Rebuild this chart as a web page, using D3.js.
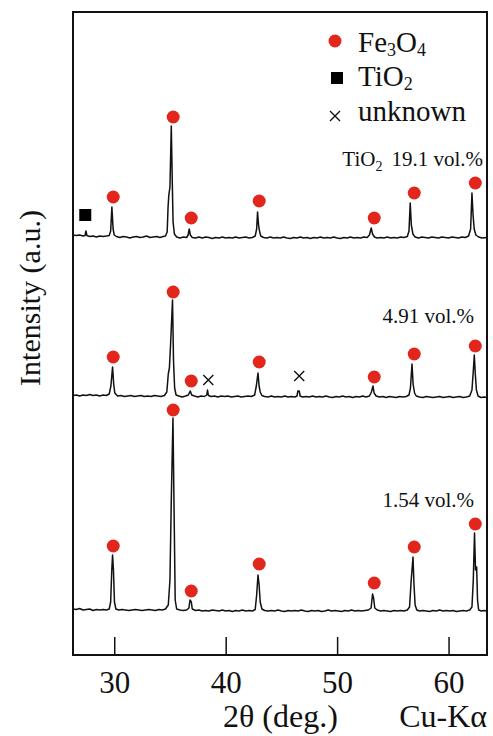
<!DOCTYPE html>
<html><head><meta charset="utf-8">
<script src="https://cdn.jsdelivr.net/npm/d3@7"></script>
<style>html,body{margin:0;padding:0;background:#fff;}svg{display:block;}</style>
</head><body>
<svg id="chart" width="493" height="736"></svg>
<script>
// ---- data (2θ in degrees, intensity in a.u. above each pattern's own baseline) ----
const xTicks = [30, 40, 50, 60];
const sampleLabels = ["19.1 vol.%", "4.91 vol.%", "1.54 vol.%"];
const offsets = [418, 259, 45];

const traceTop = [[26.3,2],[26.6,1.5],[26.9,2],[27.2,1],[27.38,1.5],[27.46,6],[27.55,1.5],[27.8,0.5],[28.1,1],[28.4,0],[28.7,1],[29.0,0.5],[29.3,1],[29.55,1.5],[29.68,6],[29.79,30],[29.9,8],[30.0,2],[30.2,0.5],[30.5,-0.5],[30.8,0.5],[31.1,0],[31.4,-1],[31.7,0],[32.0,0.5],[32.3,-0.5],[32.6,0],[32.9,1],[33.2,-0.5],[33.5,0],[33.8,0.5],[34.1,-0.5],[34.4,0.5],[34.6,1],[34.75,5],[34.83,30],[34.9,42],[35.0,50],[35.12,111],[35.2,60],[35.28,15],[35.4,3],[35.6,0],[35.9,-1],[36.2,0],[36.5,-0.5],[36.63,2],[36.73,8],[36.83,2],[37.0,-0.5],[37.3,-1],[37.6,0],[37.9,-1],[38.2,0],[38.5,-0.5],[38.8,-1.5],[39.1,-0.5],[39.4,-1],[39.7,0],[40.0,-1],[40.3,-0.5],[40.6,-1],[40.9,0],[41.2,-1],[41.5,-0.5],[41.8,0],[42.1,-1],[42.4,-0.5],[42.65,1],[42.78,8],[42.86,25],[42.95,12],[43.05,5],[43.15,1],[43.4,-0.5],[43.7,-1],[44.0,0],[44.3,-1],[44.6,-0.5],[44.9,-1],[45.2,0],[45.5,-1],[45.8,-1.5],[46.1,-0.5],[46.4,-1],[46.7,0],[47.0,-1],[47.3,-0.5],[47.6,-1.5],[47.9,-0.5],[48.2,-1],[48.5,0],[48.8,-1],[49.1,-0.5],[49.4,-1],[49.7,0],[50.0,-1],[50.3,-1.5],[50.6,-0.5],[50.9,-1],[51.2,0],[51.5,-1],[51.8,-0.5],[52.1,-1],[52.4,0],[52.7,-0.5],[52.9,2],[53.06,9],[53.18,3],[53.35,0],[53.6,-1],[53.9,-0.5],[54.2,-1],[54.5,0],[54.8,-1],[55.1,-0.5],[55.4,-1],[55.7,0],[56.0,-0.5],[56.3,0.5],[56.45,6],[56.56,34],[56.66,12],[56.8,3],[57.0,0],[57.3,-1],[57.6,0],[57.9,-0.5],[58.2,-1],[58.5,0],[58.8,-0.5],[59.1,-1],[59.4,0],[59.7,-0.5],[60.0,-1],[60.3,0],[60.6,-0.5],[60.9,-1],[61.2,0],[61.5,-0.5],[61.8,1],[61.98,8],[62.10,44],[62.2,22],[62.3,8],[62.45,2],[62.7,0],[63.0,-1],[63.45,-0.5]];

const traceMid = [[26.3,0.5],[26.6,1],[26.9,0],[27.2,1],[27.5,0.5],[27.8,1.5],[28.1,0.5],[28.4,1],[28.7,0],[29.0,1],[29.3,0.5],[29.55,2],[29.7,10],[29.85,29],[29.95,12],[30.05,3],[30.3,0],[30.6,0.5],[30.9,-0.5],[31.2,0],[31.5,0.5],[31.8,-0.5],[32.1,0],[32.4,0.5],[32.7,-0.5],[33.0,0],[33.3,-0.5],[33.6,0.5],[33.9,0],[34.2,-0.5],[34.5,0.5],[34.72,4],[34.85,22],[34.95,28],[35.05,50],[35.23,96],[35.32,35],[35.42,8],[35.55,1],[35.8,0],[36.1,-1],[36.4,0],[36.65,1],[36.82,5],[36.95,1],[37.2,0],[37.5,-1],[37.8,0],[38.1,-0.5],[38.3,1],[38.37,6],[38.45,0.5],[38.7,-0.5],[39.0,0],[39.3,-1],[39.6,0],[39.9,-0.5],[40.2,0],[40.5,-1],[40.8,-0.5],[41.1,0],[41.4,-1],[41.7,-0.5],[42.0,0],[42.3,-0.5],[42.6,1],[42.75,10],[42.9,23],[43.0,10],[43.1,4],[43.25,0.5],[43.5,-0.5],[43.8,-1],[44.1,0],[44.4,-1],[44.7,-0.5],[45.0,-1],[45.3,0],[45.6,-1],[45.9,-0.5],[46.2,-1],[46.4,0],[46.48,5],[46.6,5],[46.68,0],[46.9,-1],[47.2,-0.5],[47.5,-1],[47.8,0],[48.1,-1],[48.4,-0.5],[48.7,-1],[49.0,0],[49.3,-1],[49.6,-1.5],[49.9,-0.5],[50.2,-1],[50.5,0],[50.8,-1],[51.1,-0.5],[51.4,-1.5],[51.7,-0.5],[52.0,-1],[52.3,0],[52.6,-1],[52.9,0],[53.08,4],[53.22,10],[53.32,3],[53.5,0],[53.8,-1],[54.1,-0.5],[54.4,-1.5],[54.7,-0.5],[55.0,-1],[55.3,-1.5],[55.6,-0.5],[55.9,-1],[56.2,-0.5],[56.45,1],[56.58,8],[56.72,32],[56.82,12],[56.95,3],[57.1,0],[57.4,-1],[57.7,-1.5],[58.0,-0.5],[58.3,-1],[58.6,-1.5],[58.9,-1],[59.2,-0.5],[59.5,-1.5],[59.8,-1],[60.1,-0.5],[60.4,-1.5],[60.7,-1],[61.0,-0.5],[61.3,-1.5],[61.6,-1],[61.9,0],[62.1,6],[62.22,25],[62.31,41],[62.4,22],[62.5,6],[62.65,0],[62.9,-1.5],[63.2,-1],[63.45,-1.5]];

const traceBot = [[26.3,1],[26.6,0.5],[26.9,1.5],[27.2,0],[27.5,0.5],[27.8,1],[28.1,-0.5],[28.4,0.5],[28.7,0],[29.0,0.5],[29.3,0],[29.55,1],[29.68,8],[29.78,40],[29.85,55],[29.93,40],[30.02,8],[30.15,1],[30.4,0],[30.7,0.5],[31.0,0],[31.3,-0.5],[31.6,0],[31.9,0.5],[32.2,0],[32.5,-0.5],[32.8,0],[33.1,0.5],[33.4,0],[33.7,-0.5],[34.0,0.5],[34.3,0],[34.6,1],[34.85,5],[35.0,30],[35.12,110],[35.27,192],[35.37,100],[35.47,10],[35.6,1],[35.9,0],[36.2,-0.5],[36.5,0],[36.7,2],[36.8,10],[36.92,8],[37.0,1],[37.3,-0.5],[37.6,0],[37.9,-1],[38.2,-0.5],[38.5,-1],[38.8,0],[39.1,-0.5],[39.4,-1],[39.7,0],[40.0,-1],[40.3,-0.5],[40.6,-1.5],[40.9,-0.5],[41.2,-1],[41.5,0],[41.8,-1],[42.1,-0.5],[42.4,-1],[42.65,0.5],[42.78,15],[42.9,35],[43.0,25],[43.1,8],[43.25,1],[43.5,-0.5],[43.8,-1],[44.1,-0.5],[44.4,-1],[44.7,0],[45.0,-1],[45.3,-1.5],[45.6,-0.5],[45.9,-1],[46.2,-0.5],[46.5,-1],[46.8,0],[47.1,-1],[47.4,-1.5],[47.7,-0.5],[48.0,-1],[48.3,-0.5],[48.6,-1.5],[48.9,-1],[49.2,0],[49.5,-1],[49.8,-0.5],[50.1,-1],[50.4,-1.5],[50.7,-0.5],[51.0,-1],[51.3,0],[51.6,-1],[51.9,-0.5],[52.2,-1],[52.5,-0.5],[52.8,0],[53.05,2],[53.18,16],[53.27,12],[53.38,2],[53.6,0],[53.9,-1],[54.2,-0.5],[54.5,-1],[54.8,-1.5],[55.1,-0.5],[55.4,-1],[55.7,-0.5],[56.0,-1],[56.3,0],[56.5,3],[56.65,30],[56.81,53],[56.9,25],[57.0,5],[57.15,0],[57.4,-1],[57.7,-0.5],[58.0,-1],[58.3,-1.5],[58.6,-0.5],[58.9,-1],[59.2,0],[59.5,-1],[59.8,-0.5],[60.1,-1],[60.4,-0.5],[60.7,-1.5],[61.0,-1],[61.3,-0.5],[61.6,-1],[61.9,0],[62.1,3],[62.22,30],[62.33,77],[62.42,40],[62.52,43],[62.6,10],[62.7,0],[62.95,-1],[63.2,-0.5],[63.45,-1]];

// marker positions [2θ, intensity above baseline]
const fe3o4Top = [[29.91,40],[35.29,120],[36.91,19],[43.01,36],[53.33,19],[56.92,44],[62.40,54]];
const fe3o4Mid = [[29.91,39],[35.29,104],[36.91,15],[43.01,34],[53.33,19],[56.92,42],[62.40,50]];
const fe3o4Bot = [[29.91,64],[35.29,200],[36.91,19],[43.01,46],[53.33,27],[56.92,63],[62.40,86]];
const tio2Top = [[27.40,22]];
const unknownMid = [[38.44,16],[46.60,20]];

// ---- drawing ----
const svg = d3.select("#chart");
const L = 73, R = 487, T = 12, B = 655;
const x = d3.scaleLinear().domain([26.3, 63.45]).range([L, R]);
const y = d3.scaleLinear().domain([0, B - T]).range([B, T]);
const serif = "Liberation Serif, Times New Roman, serif";
const red = "#e3261c";
const ink = "#111";

const traces = [traceTop, traceMid, traceBot];
const line = d3.line().x(d => x(d[0])).y(d => y(d[1]));
traces.forEach((t, i) => {
  svg.append("path")
    .datum(t.map(d => [d[0], d[1] + offsets[i]]))
    .attr("d", line)
    .attr("fill", "none")
    .attr("stroke", ink)
    .attr("stroke-width", 1.5)
    .attr("stroke-linejoin", "round");
});

// frame
svg.append("rect").attr("x", L).attr("y", T).attr("width", R - L).attr("height", B - T)
  .attr("fill", "none").attr("stroke", ink).attr("stroke-width", 2);

// x axis (ticks inside)
const ax = svg.append("g").attr("transform", `translate(0,${B})`)
  .call(d3.axisBottom(x).tickValues(xTicks).tickSize(-18).tickPadding(0).tickFormat(d3.format("d")));
ax.select(".domain").remove();
ax.selectAll(".tick line").attr("stroke", ink).attr("stroke-width", 1.5);
ax.selectAll(".tick text").attr("dy", null).attr("y", 38)
  .attr("font-family", serif).attr("font-size", 31).attr("fill", ink);

// markers
const crossPath = s => `M${-s},${-s}L${s},${s}M${-s},${s}L${s},${-s}`;
const fe = [fe3o4Top, fe3o4Mid, fe3o4Bot];
fe.forEach((m, i) => {
  svg.append("g").selectAll("circle").data(m).join("circle")
    .attr("cx", d => x(d[0])).attr("cy", d => y(d[1] + offsets[i]))
    .attr("r", 6.5).attr("fill", red);
});
svg.append("g").selectAll("rect").data(tio2Top).join("rect")
  .attr("x", d => x(d[0]) - 6).attr("y", d => y(d[1] + offsets[0]) - 6)
  .attr("width", 12).attr("height", 12).attr("fill", "#000");
svg.append("g").selectAll("path").data(unknownMid).join("path")
  .attr("transform", d => `translate(${x(d[0])},${y(d[1] + offsets[1])})`)
  .attr("d", crossPath(5)).attr("stroke", ink).attr("stroke-width", 1.4).attr("fill", "none");

// sample labels
const lab0 = svg.append("text").attr("x", 483).attr("y", 166).attr("text-anchor", "end")
  .attr("font-family", serif).attr("font-size", 21).attr("fill", ink);
lab0.append("tspan").text("TiO");
lab0.append("tspan").attr("font-size", 14).attr("dy", 5).text("2");
lab0.append("tspan").attr("dy", -5).attr("dx", 9).text(sampleLabels[0]);
svg.append("text").attr("x", 474).attr("y", 323).attr("text-anchor", "end")
  .attr("font-family", serif).attr("font-size", 21).attr("fill", ink).text(sampleLabels[1]);
svg.append("text").attr("x", 474).attr("y", 507).attr("text-anchor", "end")
  .attr("font-family", serif).attr("font-size", 21).attr("fill", ink).text(sampleLabels[2]);

// legend
const lg = svg.append("g").attr("font-family", serif).attr("font-size", 29).attr("fill", ink);
lg.append("circle").attr("cx", 335).attr("cy", 41).attr("r", 6.5).attr("fill", red);
const t1 = lg.append("text").attr("x", 358).attr("y", 52);
t1.append("tspan").text("Fe");
t1.append("tspan").attr("font-size", 18).attr("dy", 4).text("3");
t1.append("tspan").attr("dy", -4).text("O");
t1.append("tspan").attr("font-size", 18).attr("dy", 4).text("4");
lg.append("rect").attr("x", 331).attr("y", 72).attr("width", 12).attr("height", 12).attr("fill", "#000");
const t2 = lg.append("text").attr("x", 358).attr("y", 86);
t2.append("tspan").text("TiO");
t2.append("tspan").attr("font-size", 18).attr("dy", 4).text("2");
lg.append("path").attr("transform", "translate(335,116)").attr("d", crossPath(5))
  .attr("stroke", ink).attr("stroke-width", 1.4).attr("fill", "none");
lg.append("text").attr("x", 358).attr("y", 121).text("unknown");

// axis titles
svg.append("text").attr("transform", "translate(40,298) rotate(-90)").attr("text-anchor", "middle")
  .attr("font-family", serif).attr("font-size", 30).attr("fill", ink).text("Intensity (a.u.)");
svg.append("text").attr("x", 223).attr("y", 727)
  .attr("font-family", serif).attr("font-size", 32).attr("fill", ink).text("2θ (deg.)");
svg.append("text").attr("x", 487).attr("y", 727).attr("text-anchor", "end")
  .attr("font-family", serif).attr("font-size", 32).attr("fill", ink).text("Cu-Kα");
</script>
</body></html>
